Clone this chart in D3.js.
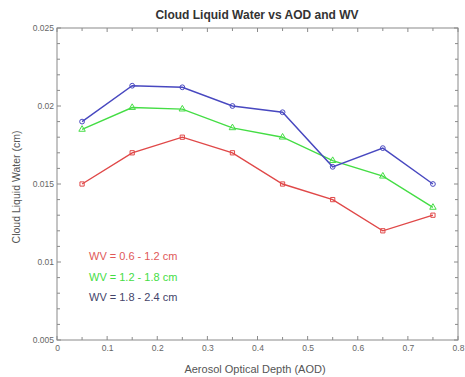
<!DOCTYPE html>
<html>
<head>
<meta charset="utf-8">
<script src="https://cdn.jsdelivr.net/npm/d3@7"></script>
<style>
  body { margin: 0; background: #fff; }
  svg { display: block; font-family: "Liberation Sans", Arial, sans-serif; }
</style>
</head>
<body>
<svg id="chart" width="465" height="377"></svg>
<script>
// Aerosol optical depth bins (bin centres)
const aod = [0.05, 0.15, 0.25, 0.35, 0.45, 0.55, 0.65, 0.75];
// Cloud liquid water (cm) per water-vapour class
const clwLow  = [0.0150, 0.0170, 0.0180, 0.0170, 0.0150, 0.0140, 0.0120, 0.0130];
const clwMid  = [0.0185, 0.0199, 0.0198, 0.0186, 0.0180, 0.0165, 0.0155, 0.0135];
const clwHigh = [0.0190, 0.0213, 0.0212, 0.0200, 0.0196, 0.0161, 0.0173, 0.0150];
const seriesNames = ["WV = 0.6 - 1.2 cm", "WV = 1.2 - 1.8 cm", "WV = 1.8 - 2.4 cm"];
const xTickLabels = ["0", "0.1", "0.2", "0.3", "0.4", "0.5", "0.6", "0.7", "0.8"];
const yTickLabels = ["0.005", "0.01", "0.015", "0.02", "0.025"];

const series = [
  { name: seriesNames[0], values: clwLow,  color: "#e04848", text: "#e05858", marker: "square" },
  { name: seriesNames[1], values: clwMid,  color: "#44dd44", text: "#44dd44", marker: "triangle" },
  { name: seriesNames[2], values: clwHigh, color: "#4848c0", text: "#44446a", marker: "circle" }
];

const svg = d3.select("#chart");
const L = 57, R = 458, T = 28, B = 340;
const x = d3.scaleLinear().domain([0, 0.8]).range([L, R]);
const y = d3.scaleLinear().domain([0.005, 0.025]).range([B, T]);
const axisColor = "#8a8a8a";

// Frame
svg.append("rect").attr("x", L).attr("y", T).attr("width", R - L).attr("height", B - T)
  .attr("fill", "none").attr("stroke", axisColor).attr("stroke-width", 1);

// Inward ticks on all four sides
const xMinor = d3.range(0, 0.8001, 0.05);
const yMinor = d3.range(0.005, 0.02501, 0.001);
const tickG = svg.append("g").attr("stroke", axisColor).attr("stroke-width", 1);
xMinor.forEach((v, i) => {
  const len = i % 2 === 0 ? 4 : 3;
  tickG.append("line").attr("x1", x(v)).attr("x2", x(v)).attr("y1", B).attr("y2", B - len);
  tickG.append("line").attr("x1", x(v)).attr("x2", x(v)).attr("y1", T).attr("y2", T + len);
});
yMinor.forEach((v, i) => {
  const len = i % 5 === 0 ? 4 : 3;
  tickG.append("line").attr("y1", y(v)).attr("y2", y(v)).attr("x1", L).attr("x2", L + len);
  tickG.append("line").attr("y1", y(v)).attr("y2", y(v)).attr("x1", R).attr("x2", R - len);
});

// Tick labels
const xAxis = d3.axisBottom(x).tickValues(d3.range(0, 0.8001, 0.1))
  .tickFormat((d, i) => xTickLabels[i]).tickSize(0).tickPadding(5);
const gx = svg.append("g").attr("transform", `translate(0,${B})`).call(xAxis);
gx.select(".domain").remove();
gx.selectAll("text").attr("fill", "#666").style("font-size", "8.5px");

const yAxis = d3.axisLeft(y).tickValues(d3.range(0.005, 0.02501, 0.005))
  .tickFormat((d, i) => yTickLabels[i]).tickSize(0).tickPadding(3);
const gy = svg.append("g").attr("transform", `translate(${L},0)`).call(yAxis);
gy.select(".domain").remove();
gy.selectAll("text").attr("fill", "#666").style("font-size", "8.5px");

// Series lines and markers
const line = d3.line().x((d, i) => x(aod[i])).y(d => y(d));
const symbolType = { square: d3.symbolSquare, triangle: d3.symbolTriangle, circle: d3.symbolCircle };
series.forEach(s => {
  svg.append("path").datum(s.values).attr("d", line)
    .attr("fill", "none").attr("stroke", s.color).attr("stroke-width", 1.4);
  svg.append("g").selectAll("path").data(s.values).join("path")
    .attr("transform", (d, i) => `translate(${x(aod[i])},${y(d)})`)
    .attr("d", d3.symbol().type(symbolType[s.marker]).size(18))
    .attr("fill", "none").attr("stroke", s.color).attr("stroke-width", 1);
});

// Legend
series.forEach((s, i) => {
  svg.append("text").attr("x", 89).attr("y", 260 + i * 20.5)
    .attr("fill", s.text).style("font-size", "11px").text(s.name);
});

// Title and axis titles
svg.append("text").attr("x", 257).attr("y", 19).attr("text-anchor", "middle")
  .attr("fill", "#333").style("font-size", "12px").style("font-weight", "bold")
  .text("Cloud Liquid Water vs AOD and WV");
svg.append("text").attr("x", 255).attr("y", 373).attr("text-anchor", "middle")
  .attr("fill", "#555").style("font-size", "11px").text("Aerosol Optical Depth (AOD)");
svg.append("text").attr("transform", `translate(20,${(T + B) / 2 + 3}) rotate(-90)`)
  .attr("text-anchor", "middle").attr("fill", "#555").style("font-size", "10.5px")
  .text("Cloud Liquid Water (cm)");
</script>
</body>
</html>
